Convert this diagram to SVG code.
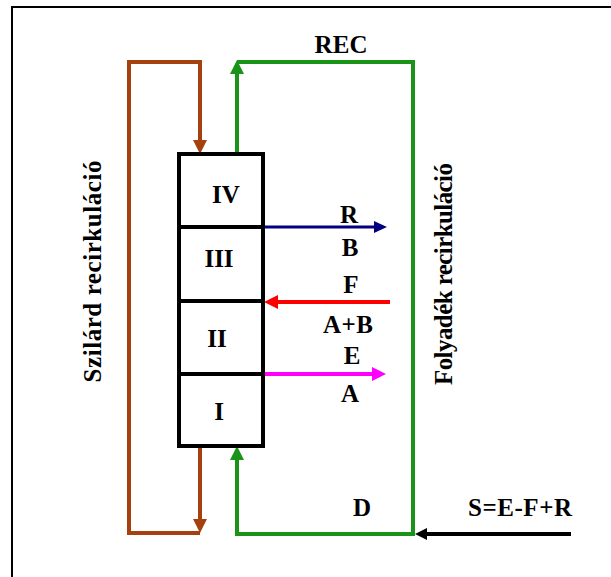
<svg xmlns="http://www.w3.org/2000/svg" width="611" height="577" viewBox="0 0 611 577">
<style>
.t text{font-family:'Liberation Serif','DejaVu Serif',serif;font-weight:700;font-size:25px;fill:#000;text-anchor:middle}
.ln{fill:none;stroke-linejoin:miter;stroke-linecap:butt}
</style>
<defs>
<marker id="mBrown" viewBox="0 0 14 14" refX="8" refY="7" markerWidth="14" markerHeight="14" markerUnits="userSpaceOnUse" orient="auto"><path d="M0,0 L14,7 L0,14 z" fill="#A4410E"/></marker>
<marker id="mGreen" viewBox="0 0 14 14" refX="8" refY="7" markerWidth="14" markerHeight="14" markerUnits="userSpaceOnUse" orient="auto"><path d="M0,0 L14,7 L0,14 z" fill="#199419"/></marker>
<marker id="mBlue" viewBox="0 0 14 14" refX="8" refY="7" markerWidth="14" markerHeight="14" markerUnits="userSpaceOnUse" orient="auto"><path d="M0,1 L13,7 L0,13 z" fill="#000080"/></marker>
<marker id="mRed" viewBox="0 0 14 14" refX="8" refY="7" markerWidth="14" markerHeight="14" markerUnits="userSpaceOnUse" orient="auto"><path d="M0,0 L14,7 L0,14 z" fill="#FF0000"/></marker>
<marker id="mMag" viewBox="0 0 14 14" refX="8" refY="7" markerWidth="14" markerHeight="14" markerUnits="userSpaceOnUse" orient="auto"><path d="M0,0 L14,7 L0,14 z" fill="#FF00FF"/></marker>
<marker id="mBlack" viewBox="0 0 14 14" refX="8" refY="7" markerWidth="14" markerHeight="14" markerUnits="userSpaceOnUse" orient="auto"><path d="M0,1 L12,7 L0,13 z" fill="#000"/></marker>
</defs>
<rect width="611" height="577" fill="#fff"/>
<path d="M12,577 V7 H611" fill="none" stroke="#000" stroke-width="2"/>

<g id="connectors">
<path class="ln" d="M200,447 V527" stroke="#A4410E" stroke-width="4" marker-end="url(#mBrown)"/>
<path class="ln" d="M200,533 H129 V62 H200 V148" stroke="#A4410E" stroke-width="4" marker-end="url(#mBrown)"/>
<path class="ln" d="M237,154 V66" stroke="#199419" stroke-width="4" marker-end="url(#mGreen)"/>
<path class="ln" d="M237,62 H413 V534 H237 V452" stroke="#199419" stroke-width="4" marker-end="url(#mGreen)"/>
<path class="ln" d="M264,227 H382" stroke="#000080" stroke-width="3" marker-end="url(#mBlue)"/>
<path class="ln" d="M390,302 H270" stroke="#FF0000" stroke-width="4" marker-end="url(#mRed)"/>
<path class="ln" d="M264,374 H380" stroke="#FF00FF" stroke-width="4" marker-end="url(#mMag)"/>
<path class="ln" d="M571,534 H419" stroke="#000" stroke-width="4" marker-end="url(#mBlack)"/>
</g>

<g id="column">
<rect x="179" y="154" width="84" height="292" fill="none" stroke="#000" stroke-width="4"/>
<path d="M179,227 H263 M179,301 H263 M179,374 H263" stroke="#000" stroke-width="4"/>
</g>
<g class="t" font-family="Liberation Serif, DejaVu Serif, serif" font-weight="bold" font-size="25">
<g id="stage-IV"><text x="226" y="203">IV</text></g>
<g id="stage-III"><text x="219" y="267">III</text></g>
<g id="stage-II"><text x="217" y="347">II</text></g>
<g id="stage-I"><text x="219" y="420">I</text></g>
</g>
<g id="labels" class="t" font-family="Liberation Serif, DejaVu Serif, serif" font-weight="bold" font-size="25">
<text x="341" y="53" textLength="53">REC</text>
<text x="349" y="223">R</text>
<text x="350" y="256">B</text>
<text x="351" y="293">F</text>
<text x="348" y="333" textLength="50">A+B</text>
<text x="352" y="364">E</text>
<text x="350" y="402">A</text>
<text x="362" y="516">D</text>
<text x="520" y="516" textLength="104">S=E-F+R</text>
<text transform="translate(101,271.5) rotate(-90)" textLength="222">Szilárd recirkuláció</text>
<text transform="translate(452,274) rotate(-90)" textLength="222">Folyadék recirkuláció</text>
</g>
</svg>
